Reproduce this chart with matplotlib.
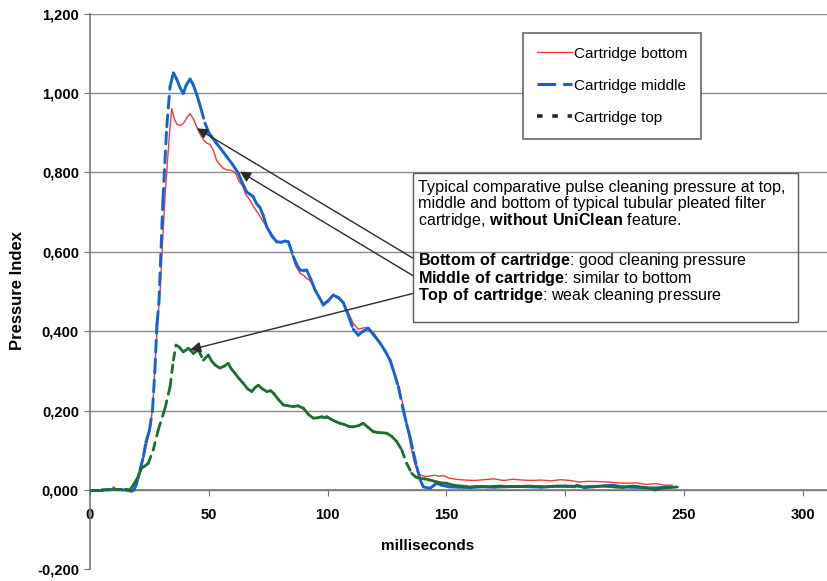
import numpy as np
import matplotlib
matplotlib.use("Agg")
import matplotlib.pyplot as plt
import matplotlib.ticker as mticker
from matplotlib.collections import LineCollection
from matplotlib.lines import Line2D
from matplotlib.patches import Rectangle

plt.rcParams['font.family'] = ['Liberation Sans', 'DejaVu Sans']
plt.rcParams['mathtext.fontset'] = 'custom'
plt.rcParams['mathtext.rm'] = 'Liberation Sans'
plt.rcParams['mathtext.bf'] = 'Liberation Sans:bold'
plt.rcParams['lines.scale_dashes'] = False

# --- data (milliseconds, pressure index) ---
bottom_ms = [0, 5, 9, 10, 11, 15, 18, 19.5, 21, 22.5, 24, 25.5, 26.5, 27.5, 28.5, 29.5,
             30.5, 31.5, 32.5, 33.5, 34.4, 35.5, 36.5, 37.9, 39.5, 41, 42.1, 43.5, 44.9,
             46.5, 48, 49.2, 50.5, 51.9, 53.3, 54.7, 56, 57.5, 59, 60.3, 61.5, 62.5, 64.4,
             65.5, 67.3, 69, 70.8, 72.5, 74.4, 76.5, 78.6, 80.5, 82, 83.5, 85, 86.5, 88.4,
             90, 91.2, 92.5, 94, 96, 98.2, 100, 102.4, 104.5, 106.6, 108.5, 110.8, 112.9,
             115, 117.1, 119.5, 122.1, 124, 126.3, 128, 129.8, 131.9, 133.5, 135, 136.5,
             138, 139, 141, 143, 145, 147, 149, 151, 154, 158, 162, 166, 170, 174, 178,
             182, 186, 190, 194, 198, 202, 206, 210, 214, 218, 222, 226, 230, 234, 238,
             242, 245]
bottom_val = [0, 0, 0.002, 0.008, 0.002, 0, 0, 0.01, 0.04, 0.08, 0.12, 0.16, 0.22, 0.33,
              0.43, 0.50, 0.62, 0.73, 0.82, 0.90, 0.961, 0.935, 0.922, 0.918, 0.925, 0.94,
              0.948, 0.935, 0.915, 0.895, 0.88, 0.874, 0.87, 0.856, 0.83, 0.819, 0.811,
              0.806, 0.806, 0.803, 0.795, 0.78, 0.764, 0.745, 0.73, 0.712, 0.697, 0.68,
              0.663, 0.645, 0.625, 0.625, 0.628, 0.625, 0.595, 0.565, 0.546, 0.54, 0.533,
              0.528, 0.515, 0.49, 0.47, 0.478, 0.49, 0.482, 0.47, 0.45, 0.42, 0.405, 0.408,
              0.41, 0.395, 0.372, 0.352, 0.33, 0.30, 0.265, 0.21, 0.16, 0.11, 0.07, 0.045,
              0.038, 0.034, 0.035, 0.037, 0.035, 0.036, 0.03, 0.027, 0.025, 0.024, 0.026,
              0.028, 0.024, 0.027, 0.025, 0.024, 0.025, 0.023, 0.026, 0.024, 0.02, 0.022,
              0.021, 0.02, 0.018, 0.017, 0.018, 0.014, 0.016, 0.012, 0.012]

middle_ms = [0, 5, 10, 15, 17.5, 18.5, 19.5, 21, 22.5, 23.5, 25, 26.3, 27.3, 28.2, 29,
             30.7, 32.3, 33.7, 35.1, 36.5, 38, 39.3, 40.5, 42.1, 43.5, 45, 46.5, 48.4, 50,
             51.2, 53, 55, 57.5, 60, 62.4, 64, 65.9, 67.3, 68.7, 70, 71.5, 73, 74.4, 76.5,
             78.6, 80.5, 82, 83.5, 85.6, 87, 88.4, 90, 91.2, 93, 94.7, 96.5, 98.2, 100,
             102.4, 104.5, 106.6, 108.7, 110.8, 112.9, 115, 117.1, 119.5, 122.1, 124.2,
             126.3, 128, 129.8, 131.9, 133.3, 134.7, 136.1, 137.5, 139, 140.3, 143.1,
             145.9, 148, 151, 155, 160, 165, 170, 175, 180, 185, 190, 195, 200, 204, 205,
             208, 212, 216, 220, 224, 228, 232, 236, 240, 244]
middle_val = [0, 0, 0.001, 0, -0.003, 0, 0.015, 0.05, 0.085, 0.12, 0.15, 0.2, 0.3, 0.42,
              0.47, 0.73, 0.915, 1.016, 1.051, 1.035, 1.012, 0.999, 1.02, 1.035, 1.02,
              0.995, 0.965, 0.924, 0.90, 0.89, 0.875, 0.86, 0.84, 0.82, 0.798, 0.775,
              0.751, 0.745, 0.739, 0.722, 0.712, 0.69, 0.663, 0.64, 0.625, 0.624, 0.627,
              0.625, 0.588, 0.568, 0.554, 0.553, 0.554, 0.53, 0.504, 0.485, 0.466, 0.475,
              0.491, 0.485, 0.472, 0.44, 0.405, 0.39, 0.40, 0.407, 0.39, 0.37, 0.35, 0.327,
              0.295, 0.26, 0.2, 0.165, 0.134, 0.095, 0.059, 0.025, 0.008, 0.004, 0.017,
              0.012, 0.008, 0.007, 0.006, 0.008, 0.007, 0.008, 0.009, 0.008, 0.007, 0.009,
              0.01, 0.008, 0.012, 0.006, 0.008, 0.01, 0.012, 0.008, 0.007, 0.006, 0.005,
              0.006, 0.007]

top_ms = [0, 5, 10, 15, 16.8, 18.5, 20.3, 21.7, 23, 24.5, 26.6, 28.7, 31.6, 33.7, 35.1,
          36.2, 37.5, 39.3, 41.4, 43.5, 45.6, 47.7, 49.8, 51.2, 52.6, 54.7, 56.5, 58.2,
          59.5, 61, 62.8, 64.5, 66.3, 68.1, 69.5, 70.8, 72.5, 74.4, 76, 77.2, 79.3, 81.4,
          83.5, 85.6, 87.5, 89.8, 92, 94, 96, 97.8, 99.6, 101.5, 103.5, 105.2, 107, 109,
          110.8, 113, 115, 117, 119.2, 121, 123, 124.9, 127, 129.1, 131.2, 133.3, 135.4,
          137, 138.9, 141, 143.1, 145, 147.5, 150.1, 153, 156, 160, 164, 168, 172, 176,
          180, 184, 188, 192, 196, 200, 204, 208, 212, 216, 220, 224, 228, 232, 236, 238,
          240, 244, 248]
top_val = [0, 0, 0.001, 0.002, 0, 0.015, 0.034, 0.055, 0.06, 0.067, 0.101, 0.151, 0.206,
           0.26, 0.327, 0.365, 0.36, 0.348, 0.357, 0.344, 0.353, 0.327, 0.34, 0.325, 0.315,
           0.307, 0.312, 0.319, 0.305, 0.294, 0.28, 0.269, 0.255, 0.248, 0.258, 0.264,
           0.255, 0.248, 0.25, 0.244, 0.228, 0.214, 0.212, 0.21, 0.212, 0.206, 0.19, 0.181,
           0.182, 0.185, 0.185, 0.178, 0.172, 0.168, 0.165, 0.16, 0.159, 0.162, 0.168,
           0.158, 0.147, 0.145, 0.144, 0.143, 0.135, 0.122, 0.101, 0.067, 0.042, 0.033,
           0.029, 0.028, 0.025, 0.022, 0.018, 0.017, 0.012, 0.01, 0.008, 0.009, 0.008,
           0.01, 0.009, 0.008, 0.01, 0.009, 0.008, 0.01, 0.009, 0.01, 0.008, 0.009, 0.01,
           0.008, 0.006, 0.01, 0.008, 0.003, 0, 0.004, 0.006, 0.008]

series_labels = ['Cartridge bottom', 'Cartridge middle', 'Cartridge top']
x_ticks = [0, 50, 100, 150, 200, 250, 300]
y_ticks = [-0.2, 0.0, 0.2, 0.4, 0.6, 0.8, 1.0, 1.2]

note_lines = [
    "Typical comparative pulse cleaning pressure at top,",
    "middle and bottom of typical tubular pleated filter",
    r"cartridge, $\bf{without\ UniClean}$ feature.",
]
finding_lines = [
    r"$\bf{Bottom\ of\ cartridge}$: good cleaning pressure",
    r"$\bf{Middle\ of\ cartridge}$: similar to bottom",
    r"$\bf{Top\ of\ cartridge}$: weak cleaning pressure",
]
# arrow tips (ms, value) for bottom, middle, top
arrow_tips = [(45.0, 0.911), (63.1, 0.802), (42.1, 0.353)]

RED = '#ee3b3b'
BLUE = '#1463d6'
GREEN = '#1b6e30'


def excel_dashed(ax, x, y, color, lw, dash, zorder):
    # Excel restarts the dash pattern at every data point, so draw segment by segment
    pts = np.column_stack([x, y])
    segs = np.stack([pts[:-1], pts[1:]], axis=1)
    lc = LineCollection(segs, colors=color, linewidths=lw, linestyles=[(0, dash)],
                        capstyle='round', zorder=zorder)
    ax.add_collection(lc)


fig = plt.figure(figsize=(8.27, 5.81), dpi=100)
ax = fig.add_axes([90 / 827, 0.02, 737 / 827, 0.9566])

ax.plot(bottom_ms, bottom_val, color=RED, lw=1.0, zorder=3)
excel_dashed(ax, middle_ms, middle_val, BLUE, 2.1, (8.5, 5.0), 4)
excel_dashed(ax, top_ms, top_val, GREEN, 2.0, (5.5, 4.8), 5)

ax.set_xlim(0, 310.2)
ax.set_ylim(-0.2, 1.2)

ax.spines['top'].set_visible(False)
ax.spines['right'].set_visible(False)
ax.spines['bottom'].set_position(('data', 0))
for sp in ('left', 'bottom'):
    ax.spines[sp].set_color('#6e6e6e')
    ax.spines[sp].set_linewidth(1.1)

ax.set_xticks(x_ticks)
ax.set_yticks(y_ticks)
ax.yaxis.set_major_formatter(mticker.FuncFormatter(lambda v, p: f"{v:.3f}".replace('.', ',')))
ax.tick_params(axis='both', direction='out', length=4, color='#6e6e6e', labelsize=10.5)
ax.tick_params(axis='x', pad=9)
ax.tick_params(axis='y', pad=4)
for lab in ax.get_xticklabels() + ax.get_yticklabels():
    lab.set_fontweight('bold')

ax.yaxis.grid(True, color='#8c8c8c', linewidth=1.0, zorder=0)
ax.get_ygridlines()[0].set_visible(False)
ax.set_axisbelow(True)

ax.text(142, -0.141, 'milliseconds', fontsize=11, fontweight='bold', ha='center', va='center')
fig.text(18 / 827, 1 - 291 / 581, 'Pressure Index', rotation=90, fontsize=12,
         fontweight='bold', ha='center', va='center')

# annotation box
ax.add_patch(Rectangle((135.9, 0.423), 162.0, 0.375, fill=False, edgecolor='#5a5a5a',
                       linewidth=1.0, zorder=6))
for i, line in enumerate(note_lines):
    ax.text(138.0, 0.763 - i * 0.0415, line, fontsize=11.6, va='center', ha='left', zorder=7)
for i, line in enumerate(finding_lines):
    ax.text(138.0, 0.577 - i * 0.044, line, fontsize=11.6, va='center', ha='left', zorder=7)

arrow_starts = [(135.9, 0.584), (135.9, 0.540), (135.9, 0.495)]
for tip, start in zip(arrow_tips, arrow_starts):
    ax.annotate('', xy=tip, xytext=start, zorder=8,
                arrowprops=dict(arrowstyle='-|>', color='#2a2a2a', lw=1.0,
                                mutation_scale=16, shrinkA=0, shrinkB=0))

handles = [
    Line2D([], [], color=RED, lw=1.0),
    Line2D([], [], color=BLUE, lw=2.2, dashes=(13.5, 5.0)),
    Line2D([], [], color='#1f2f22', lw=2.6, dashes=(4.0, 7.0)),
]
leg = ax.legend(handles, series_labels, loc='upper left',
                bbox_to_anchor=((523 - 90) / 737, (569.4 - 33) / 555.8),
                borderaxespad=0, fontsize=11, handlelength=2.3, handletextpad=0.15,
                labelspacing=1.18, borderpad=0.9, fancybox=False, framealpha=1)
leg.get_frame().set_edgecolor('#666666')
leg.get_frame().set_linewidth(1.2)

fig.savefig('out.png', dpi=100)
